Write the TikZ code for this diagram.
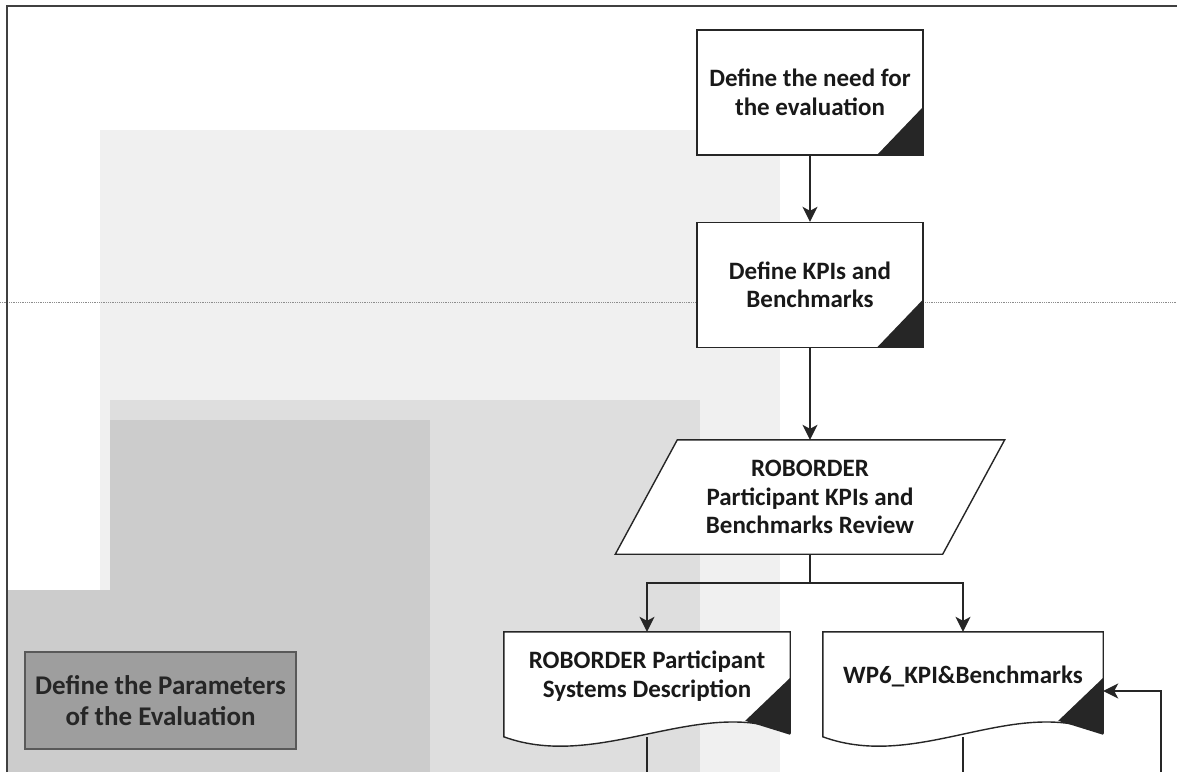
\documentclass[tikz,border=0pt]{standalone}
\usepackage{fontspec}
\setmainfont{Carlito}
\usetikzlibrary{arrows.meta}

\pgfdeclarelayer{bg}
\pgfdeclarelayer{shapes}
\pgfsetlayers{bg,shapes,main}

% document shape with wavy bottom, drawn round a named node
\newcommand{\wavedoc}[1]{%
  \begin{pgfonlayer}{shapes}
    \filldraw[boxline, fill=white] (#1.north west) -- (#1.north east) -- ([yshift=-101pt]#1.north east)
      .. controls ([shift={(-90pt,-63pt)}]#1.north east) and ([shift={(96pt,-140pt)}]#1.north west) .. ([yshift=-105pt]#1.north west) -- cycle;
    \fill[black!85] ([yshift=-46pt]#1.north east) -- ([yshift=-103pt]#1.north east) -- ([shift={(-45pt,-89pt)}]#1.north east) -- cycle;
  \end{pgfonlayer}}

\begin{document}
\begin{tikzpicture}[x=1pt, y=1pt,
    boxline/.style={draw=black!85, line width=1.4pt},
    txt/.style={font=\bfseries\fontsize{25}{28.5}\selectfont, text=black!90, align=center, inner sep=0pt},
    stepbox/.style={txt, boxline, fill=white, minimum width=226pt, minimum height=125pt,
      path picture={\fill[black!85] (path picture bounding box.south east) -- ++(-46pt,0pt) -- ++(46pt,48pt) -- cycle;}},
    docbox/.style={txt, minimum height=88pt},
    arr/.style={draw=black!85, line width=1.5pt, -{Stealth[length=15pt, width=15pt, inset=4pt]}},
    titlebox/.style={draw=black!65, line width=1.6pt, fill=black!38, text=black!85, align=center,
      font=\bfseries\fontsize{27}{31.5}\selectfont, minimum width=271pt, minimum height=97pt, inner sep=0pt}]
  \useasboundingbox (0,0) rectangle (1177,-772);

  % faded scan behind the chart
  \begin{pgfonlayer}{bg}
    \fill[black!6] (100,-130) rectangle (780,-772);
    \fill[black!13] (110,-400) rectangle (700,-772);
    \fill[black!20] (110,-420) rectangle (430,-772);
    \fill[black!20] (8,-590) rectangle (110,-772);
    \draw[black!45, line width=0.8pt, densely dotted] (0,-302) -- (1177,-302);
    \draw[black!75, line width=1.5pt] (7,-772) -- (7,-6) -- (1177,-6);
  \end{pgfonlayer}

  \node[stepbox](needeval)at(810,-92.5){Define the need for\\the evaluation};
  \node[stepbox](kpis)at(810,-285){Define KPIs and\\Benchmarks};
  \node[txt, minimum width=389pt, minimum height=114pt](review)at(810,-497){ROBORDER\\Participant KPIs and\\Benchmarks Review};
  \begin{pgfonlayer}{shapes}
    \filldraw[boxline, fill=white] ([xshift=62pt]review.north west) -- (review.north east) -- ([xshift=-62pt]review.south east) -- (review.south west) -- cycle;
  \end{pgfonlayer}
  \node[docbox, minimum width=286pt](sysdesc)at(647,-676){ROBORDER Participant\\Systems Description};
  \node[docbox, minimum width=280pt](kpidoc)at(963,-676){WP6\_KPI\&Benchmarks};
  \wavedoc{sysdesc}
  \wavedoc{kpidoc}
  \node[titlebox](paramtitle)at(160.5,-700.5){Define the Parameters\\of the Evaluation};

  \coordinate (sysout) at (647,-772);
  \coordinate (kpiout) at (963,-772);
  \coordinate (fbin) at (1161,-772);

  \draw[arr] (needeval) -- (kpis);
  \draw[arr] (kpis) -- (review);
  \draw[arr] (review.south) -- ++(0,-29) -| (sysdesc.north);
  \draw[arr] (review.south) -- ++(0,-29) -| (kpidoc.north);
  \draw[boxline, line width=1.5pt] ([yshift=-17pt]sysdesc.south) -- (sysout);
  \draw[boxline, line width=1.5pt] ([yshift=-17pt]kpidoc.south) -- (kpiout);
  \draw[arr] (fbin) |- ([yshift=-15pt]kpidoc.east);
\end{tikzpicture}
\end{document}
